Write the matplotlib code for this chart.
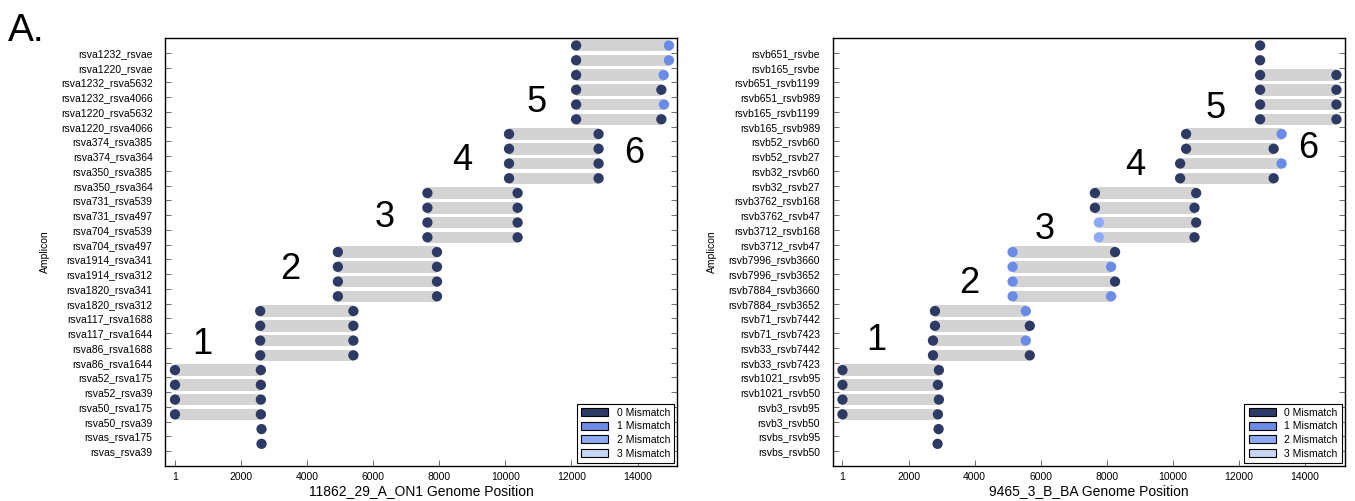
import numpy as np
import matplotlib.pyplot as plt
from matplotlib.patches import Patch

plt.rcParams['font.family'] = ['Liberation Sans', 'DejaVu Sans']

# mismatch colours (0, 1, 2, 3)
mm_colors = ['#2d3a63', '#6b8ce6', '#8eaaf7', '#c8d7f7']
bar_color = '#d3d3d3'

# ---- panel A (left) : rows listed bottom to top ----
a_labels = ['rsvas_rsva39', 'rsvas_rsva175', 'rsva50_rsva39', 'rsva50_rsva175',
            'rsva52_rsva39', 'rsva52_rsva175', 'rsva86_rsva1644', 'rsva86_rsva1688',
            'rsva117_rsva1644', 'rsva117_rsva1688', 'rsva1820_rsva312', 'rsva1820_rsva341',
            'rsva1914_rsva312', 'rsva1914_rsva341', 'rsva704_rsva497', 'rsva704_rsva539',
            'rsva731_rsva497', 'rsva731_rsva539', 'rsva350_rsva364', 'rsva350_rsva385',
            'rsva374_rsva364', 'rsva374_rsva385', 'rsva1220_rsva4066', 'rsva1220_rsva5632',
            'rsva1232_rsva4066', 'rsva1232_rsva5632', 'rsva1220_rsvae', 'rsva1232_rsvae']
a_start = [np.nan, np.nan, 1, 1, 1, 1, 2580, 2580, 2580, 2580,
           4930, 4930, 4930, 4930, 7640, 7640, 7640, 7640,
           10110, 10110, 10110, 10110, 12140, 12140, 12140, 12140, 12140, 12140]
a_end = [2620, 2620, 2600, 2600, 2600, 2600, 5400, 5400, 5400, 5400,
         7930, 7930, 7930, 7930, 10370, 10370, 10370, 10370,
         12820, 12820, 12820, 12820, 14720, 14800, 14720, 14790, 14950, 14950]
a_start_mm = [0] * 28
a_end_mm = [0] * 22 + [0, 1, 0, 1, 1, 1]
a_groups = ['1', '2', '3', '4', '5', '6']
a_group_x = [840, 3480, 6360, 8690, 10950, 13890]
a_group_y = [7.25, 12.3, 15.85, 19.7, 23.65, 20.2]

# ---- panel B (right) : rows listed bottom to top ----
b_labels = ['rsvbs_rsvb50', 'rsvbs_rsvb95', 'rsvb3_rsvb50', 'rsvb3_rsvb95',
            'rsvb1021_rsvb50', 'rsvb1021_rsvb95', 'rsvb33_rsvb7423', 'rsvb33_rsvb7442',
            'rsvb71_rsvb7423', 'rsvb71_rsvb7442', 'rsvb7884_rsvb3652', 'rsvb7884_rsvb3660',
            'rsvb7996_rsvb3652', 'rsvb7996_rsvb3660', 'rsvb3712_rsvb47', 'rsvb3712_rsvb168',
            'rsvb3762_rsvb47', 'rsvb3762_rsvb168', 'rsvb32_rsvb27', 'rsvb32_rsvb60',
            'rsvb52_rsvb27', 'rsvb52_rsvb60', 'rsvb165_rsvb989', 'rsvb165_rsvb1199',
            'rsvb651_rsvb989', 'rsvb651_rsvb1199', 'rsvb165_rsvbe', 'rsvb651_rsvbe']
b_start = [np.nan, np.nan, 1, 1, 1, 1, 2740, 2740, 2800, 2800,
           5150, 5150, 5150, 5150, 7760, 7760, 7640, 7640,
           10220, 10220, 10400, 10400, 12640, 12640, 12640, 12640, 12640, 12640]
b_end = [2880, 2910, 2890, 2920, 2890, 2920, 5670, 5550, 5670, 5550,
         8130, 8250, 8130, 8250, 10655, 10705, 10655, 10705,
         13050, 13290, 13050, 13290, 14950, 14950, 14950, 14950, np.nan, np.nan]
b_start_mm = [0] * 10 + [1, 1, 1, 1, 2, 2] + [0] * 12
b_end_mm = [0] * 7 + [1, 0, 1, 1, 0, 1, 0] + [0] * 4 + [0, 1, 0, 1] + [0] * 6
b_groups = ['1', '2', '3', '4', '5', '6']
b_group_x = [1040, 3845, 6130, 8870, 11290, 14100]
b_group_y = [7.5, 11.4, 15.0, 19.4, 23.2, 20.5]

xticks = [1, 2000, 4000, 6000, 8000, 10000, 12000, 14000]


def draw_panel(ax, labels, start, end, start_mm, end_mm, groups, gx, gy, xlabel):
    y = np.arange(len(labels))
    start = np.array(start, dtype=float)
    end = np.array(end, dtype=float)
    both = ~np.isnan(start) & ~np.isnan(end)
    ax.barh(y[both] + 0.5, end[both] - start[both], left=start[both],
            height=0.78, color=bar_color, zorder=1)
    s_ok = ~np.isnan(start)
    e_ok = ~np.isnan(end)
    ax.scatter(start[s_ok], y[s_ok] + 0.5, s=55, zorder=3, linewidths=0,
               c=[mm_colors[m] for m in np.array(start_mm)[s_ok]])
    ax.scatter(end[e_ok], y[e_ok] + 0.5, s=55, zorder=3, linewidths=0,
               c=[mm_colors[m] for m in np.array(end_mm)[e_ok]])
    for g, x0, y0 in zip(groups, gx, gy):
        ax.text(x0, y0, g, fontsize=26, ha='center', va='center')

    ax.set_xlim(-300, 15200)
    ax.set_ylim(-1, 28)
    ax.set_yticks(y)
    ax.set_yticklabels(labels, fontsize=7.5)
    ax.set_xticks(xticks)
    ax.set_xticklabels([str(t) for t in xticks], fontsize=7.5)
    ax.tick_params(axis='y', direction='in', length=4, right=True, width=0.6,
                   color='#555555', pad=9)
    ax.tick_params(axis='x', direction='in', length=4, width=0.6, color='#555555', pad=4)
    ax.set_xlabel(xlabel, fontsize=10, labelpad=2)
    ax.set_ylabel('Amplicon', fontsize=7.5, labelpad=8)
    for sp in ax.spines.values():
        sp.set_linewidth(1.0)
    handles = [Patch(facecolor=c, edgecolor='black', linewidth=0.8, label=f'{i} Mismatch')
               for i, c in enumerate(mm_colors)]
    leg = ax.legend(handles=handles, loc='lower right', fontsize=7.5, fancybox=False,
                    framealpha=1, edgecolor='black', borderaxespad=0.3,
                    handlelength=2.6, handleheight=0.8, labelspacing=0.35,
                    borderpad=0.4, handletextpad=0.8)
    leg.get_frame().set_linewidth(0.8)


fig = plt.figure(figsize=(13.55, 5.01), dpi=100)
ax1 = fig.add_axes([0.1218, 0.0699, 0.378, 0.854])
ax2 = fig.add_axes([0.6144, 0.0699, 0.378, 0.854])

draw_panel(ax1, a_labels, a_start, a_end, a_start_mm, a_end_mm,
           a_groups, a_group_x, a_group_y, '11862_29_A_ON1 Genome Position')
draw_panel(ax2, b_labels, b_start, b_end, b_start_mm, b_end_mm,
           b_groups, b_group_x, b_group_y, '9465_3_B_BA Genome Position')

fig.text(0.006, 0.975, 'A.', fontsize=28, ha='left', va='top')

fig.savefig('out.png', dpi=100)
